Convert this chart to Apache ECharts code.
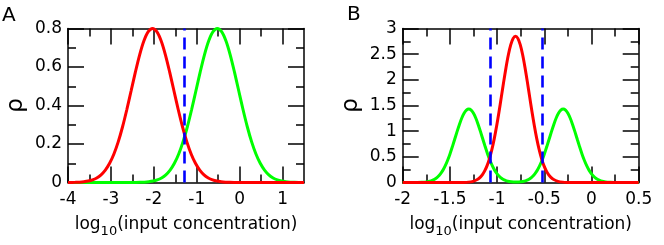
<!DOCTYPE html>
<html><head><meta charset="utf-8">
<script src="https://cdn.jsdelivr.net/npm/echarts@6/dist/echarts.min.js"></script>
<style>html,body{margin:0;padding:0;background:#fff}#c{width:664px;height:245px}</style>
</head><body><div id="c"></div>
<script>
// ---------- Panel A data (x = log10 concentration, y = rho) ----------
const aRed = [[-4,0],[-3.83,0.0009],[-3.73,0.0019],[-3.63,0.0039],[-3.53,0.0074],[-3.43,0.0135],[-3.33,0.0237],[-3.23,0.0399],[-3.13,0.0644],[-3.03,0.0997],[-2.93,0.1481],[-2.83,0.2110],[-2.73,0.2883],[-2.63,0.3780],[-2.53,0.4754],[-2.43,0.5733],[-2.33,0.6633],[-2.23,0.7361],[-2.13,0.7835],[-2.03,0.8],[-1.93,0.7835],[-1.83,0.7361],[-1.73,0.6633],[-1.63,0.5733],[-1.53,0.4754],[-1.43,0.3780],[-1.33,0.2883],[-1.23,0.2110],[-1.13,0.1481],[-1.03,0.0997],[-0.93,0.0644],[-0.83,0.0399],[-0.73,0.0237],[-0.63,0.0135],[-0.53,0.0074],[-0.43,0.0039],[-0.33,0.0019],[-0.23,0.0009],[-0.13,0.0004],[1.5,0]];
const aGreen = [[-4,0],[-2.42,0.0004],[-2.32,0.0009],[-2.22,0.0019],[-2.12,0.0039],[-2.02,0.0074],[-1.92,0.0135],[-1.82,0.0237],[-1.72,0.0399],[-1.62,0.0644],[-1.52,0.0997],[-1.42,0.1481],[-1.32,0.2110],[-1.22,0.2883],[-1.12,0.3780],[-1.02,0.4754],[-0.92,0.5733],[-0.82,0.6633],[-0.72,0.7361],[-0.62,0.7835],[-0.52,0.8],[-0.42,0.7835],[-0.32,0.7361],[-0.22,0.6633],[-0.12,0.5733],[-0.02,0.4754],[0.08,0.3780],[0.18,0.2883],[0.28,0.2110],[0.38,0.1481],[0.48,0.0997],[0.58,0.0644],[0.68,0.0399],[0.78,0.0237],[0.88,0.0135],[0.98,0.0074],[1.08,0.0039],[1.18,0.0019],[1.28,0.0009],[1.38,0.0004],[1.5,0.0002]];
const aDash = [-1.29];
const aXMajor = [-4,-3,-2,-1,0,1];
const aXMinor = [-3.5,-2.5,-1.5,-0.5,0.5];
const aYMajor = [0,0.2,0.4,0.6,0.8];
const aYMinor = [0.1,0.3,0.5,0.7];

// ---------- Panel B data ----------
const bRed = [[-2,0],[-1.405,0.0005],[-1.355,0.0021],[-1.305,0.0074],[-1.255,0.023],[-1.205,0.063],[-1.18,0.100],[-1.155,0.154],[-1.13,0.231],[-1.105,0.334],[-1.08,0.471],[-1.055,0.644],[-1.03,0.854],[-1.005,1.100],[-0.98,1.375],[-0.955,1.668],[-0.93,1.965],[-0.905,2.246],[-0.88,2.493],[-0.855,2.685],[-0.83,2.808],[-0.805,2.85],[-0.78,2.808],[-0.755,2.685],[-0.73,2.493],[-0.705,2.246],[-0.68,1.965],[-0.655,1.668],[-0.63,1.375],[-0.605,1.100],[-0.58,0.854],[-0.555,0.644],[-0.53,0.471],[-0.505,0.334],[-0.48,0.231],[-0.455,0.154],[-0.43,0.100],[-0.405,0.063],[-0.355,0.023],[-0.305,0.0074],[-0.255,0.0021],[-0.205,0.0005],[0.5,0]];
const bGreen = [[-2,0],[-1.9,0.0003],[-1.85,0.0011],[-1.8,0.0037],[-1.75,0.0115],[-1.7,0.032],[-1.675,0.050],[-1.65,0.077],[-1.625,0.116],[-1.6,0.168],[-1.575,0.236],[-1.55,0.323],[-1.525,0.428],[-1.5,0.552],[-1.475,0.690],[-1.45,0.837],[-1.425,0.986],[-1.4,1.127],[-1.375,1.251],[-1.35,1.347],[-1.325,1.409],[-1.3,1.43],[-1.275,1.409],[-1.25,1.347],[-1.225,1.251],[-1.2,1.127],[-1.175,0.986],[-1.15,0.837],[-1.125,0.690],[-1.1,0.552],[-1.075,0.428],[-1.05,0.323],[-1.025,0.236],[-1.0,0.168],[-0.975,0.116],[-0.95,0.077],[-0.925,0.050],[-0.9,0.032],[-0.85,0.0126],[-0.8,0.0074],[-0.75,0.0126],[-0.7,0.032],[-0.675,0.050],[-0.65,0.077],[-0.625,0.116],[-0.6,0.168],[-0.575,0.236],[-0.55,0.323],[-0.525,0.428],[-0.5,0.552],[-0.475,0.690],[-0.45,0.837],[-0.425,0.986],[-0.4,1.127],[-0.375,1.251],[-0.35,1.347],[-0.325,1.409],[-0.3,1.43],[-0.275,1.409],[-0.25,1.347],[-0.225,1.251],[-0.2,1.127],[-0.175,0.986],[-0.15,0.837],[-0.125,0.690],[-0.1,0.552],[-0.075,0.428],[-0.05,0.323],[-0.025,0.236],[0,0.168],[0.025,0.116],[0.05,0.077],[0.075,0.050],[0.1,0.032],[0.15,0.0115],[0.2,0.0037],[0.25,0.0011],[0.3,0.0003],[0.5,0]];
const bDash = [-1.075,-0.52];
const bXMajor = [-2,-1.5,-1,-0.5,0,0.5];
const bXMinor = [-1.75,-1.25,-0.75,-0.25,0.25];
const bYMajor = [0,0.5,1,1.5,2,2.5,3];
const bYMinor = [0.25,0.75,1.25,1.75,2.25,2.75];

const xTitle = '{a|log}{s|10}{a|(input concentration)}';
const yTitle = '\u03c1';
const panelLabels = ['A','B'];

const FONT = 'DejaVu Sans';
const MAJ = 16, MIN = 8;

function mkAxis(grid, pos, min, max, ticks, len, o) {
  o = o || {};
  const a = {
    type: 'value', gridIndex: grid, position: pos, min: min, max: max,
    axisLine: {show: !!o.line, onZero: false, lineStyle: {color: '#000', width: 1.5}},
    axisTick: {show: true, inside: true, length: len, customValues: ticks, lineStyle: {color: '#000', width: 1.5}},
    minorTick: {show: false},
    splitLine: {show: false},
    axisLabel: o.labels ? {show: true, customValues: o.labels, margin: o.margin, fontSize: 17,
      fontFamily: FONT, color: '#000', showMinLabel: true, showMaxLabel: true,
      formatter: function (v) { return String(v); }} : {show: false}
  };
  if (o.name) {
    a.name = o.name;
    a.nameLocation = 'middle';
    a.nameGap = o.nameGap;
    if (o.nameRotate !== undefined) a.nameRotate = o.nameRotate;
    a.nameTextStyle = o.nameStyle;
  }
  return a;
}
const xNameStyle = {color: '#000', fontFamily: FONT, rich: {
  a: {fontSize: 17, fontFamily: FONT, color: '#000', lineHeight: 28, verticalAlign: 'middle'},
  s: {fontSize: 13, fontFamily: FONT, color: '#000', lineHeight: 13, verticalAlign: 'bottom'}
}};
const yNameStyle = {color: '#000', fontFamily: FONT, fontSize: 23};

function panelAxes(g, xmin, xmax, xMaj, xMin, ymin, ymax, yMaj, yMin) {
  return {
    x: [
      mkAxis(g, 'bottom', xmin, xmax, xMaj, MAJ, {line: true, labels: xMaj, margin: 9, name: xTitle, nameGap: 28, nameStyle: xNameStyle}),
      mkAxis(g, 'bottom', xmin, xmax, xMin, MIN),
      mkAxis(g, 'top', xmin, xmax, xMaj, MAJ, {line: true}),
      mkAxis(g, 'top', xmin, xmax, xMin, MIN)
    ],
    y: [
      mkAxis(g, 'left', ymin, ymax, yMaj, MAJ, {line: true, labels: yMaj, margin: 6, name: yTitle, nameGap: 40, nameRotate: 90, nameStyle: yNameStyle}),
      mkAxis(g, 'left', ymin, ymax, yMin, MIN),
      mkAxis(g, 'right', ymin, ymax, yMaj, MAJ, {line: true}),
      mkAxis(g, 'right', ymin, ymax, yMin, MIN)
    ]
  };
}
const pA = panelAxes(0, -4, 1.5, aXMajor, aXMinor, 0, 0.8, aYMajor, aYMinor);
const pB = panelAxes(1, -2, 0.5, bXMajor, bXMinor, 0, 3, bYMajor, bYMinor);

function curve(data, color, xi, yi) {
  return {type: 'line', data: data, xAxisIndex: xi, yAxisIndex: yi, symbol: 'none', smooth: 0.3,
    lineStyle: {color: color, width: 3}, silent: true, animation: false};
}
function dashes(vals, xi, yi) {
  return {type: 'line', data: [], xAxisIndex: xi, yAxisIndex: yi, silent: true, animation: false,
    markLine: {symbol: 'none', silent: true, animation: false, label: {show: false},
      lineStyle: {color: '#0000ff', width: 2.6, type: [12, 7]},
      data: vals.map(function (v) { return {xAxis: v}; })}};
}

const chart = echarts.init(document.getElementById('c'), null, {renderer: 'canvas'});
chart.setOption({
  animation: false,
  backgroundColor: '#fff',
  grid: [
    {left: 68, top: 28.5, width: 236, height: 154, containLabel: false, outerBoundsMode: 'none'},
    {left: 402.7, top: 28.5, width: 236, height: 154, containLabel: false, outerBoundsMode: 'none'}
  ],
  xAxis: pA.x.concat(pB.x),
  yAxis: pA.y.concat(pB.y),
  graphic: [
    {type: 'text', left: 2, top: 6, style: {text: panelLabels[0], fontSize: 20, fontFamily: FONT, fill: '#000'}},
    {type: 'text', left: 347, top: 5, style: {text: panelLabels[1], fontSize: 20, fontFamily: FONT, fill: '#000'}}
  ],
  series: [
    curve(aGreen, '#00ff00', 0, 0),
    curve(aRed, '#ff0000', 0, 0),
    dashes(aDash, 0, 0),
    curve(bGreen, '#00ff00', 4, 4),
    curve(bRed, '#ff0000', 4, 4),
    dashes(bDash, 4, 4)
  ]
});
</script></body></html>
